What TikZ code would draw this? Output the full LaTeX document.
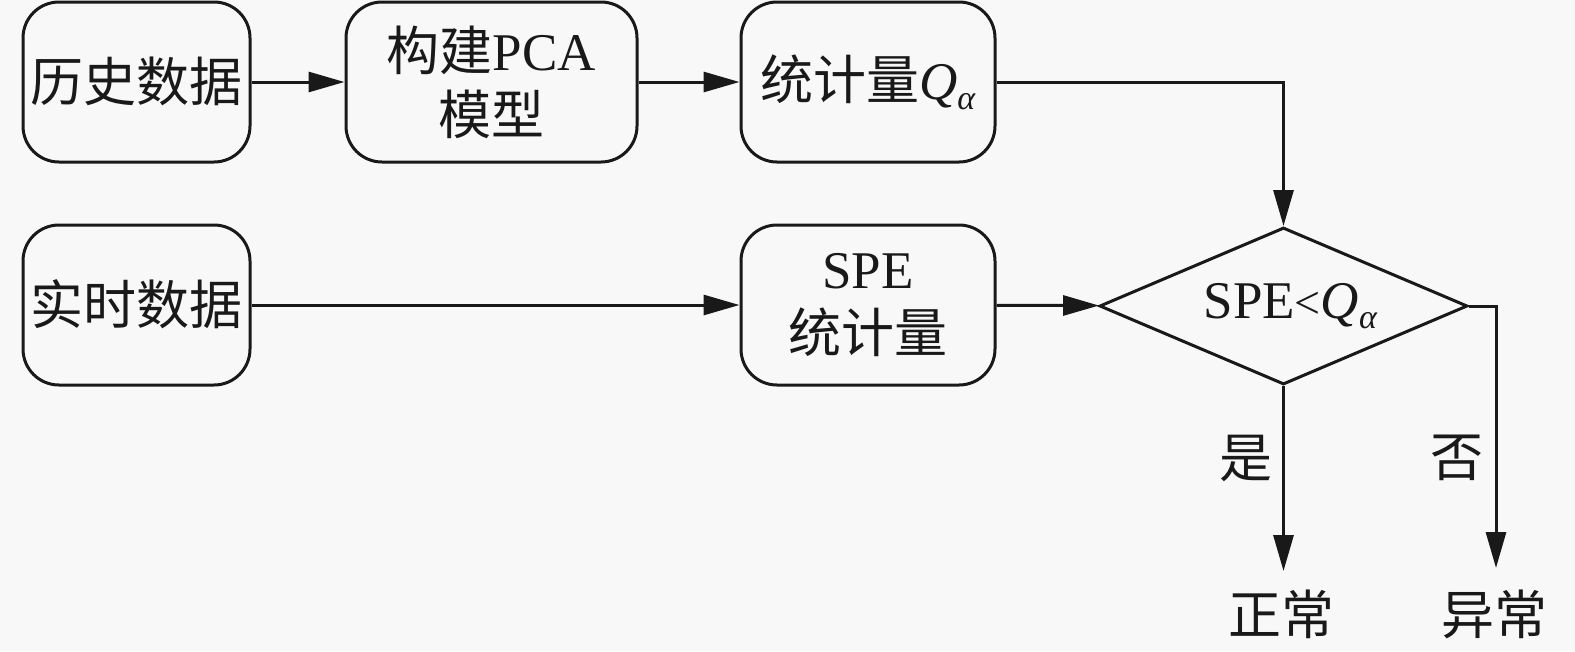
\documentclass[tikz,border=0pt]{standalone}
\usepackage{fontspec}
\setmainfont{Liberation Serif}
\newfontfamily\cjk{Noto Sans CJK SC}
\usetikzlibrary{shapes.geometric,arrows.meta}
\definecolor{bgc}{RGB}{248,248,248}
\definecolor{ink}{RGB}{25,25,25}
\newcommand{\qalpha}{\textit{Q}\raisebox{-10pt}{\fontsize{34}{36}\selectfont\textit{α}}}
\begin{document}
\begin{tikzpicture}[x=1pt,y=-1pt,
  every node/.style={font=\fontsize{53}{66}\selectfont, text=ink},
  box/.style={draw=ink, line width=3pt, rounded corners=36pt, minimum height=160pt, align=center, inner sep=0pt},
  dec/.style={draw=ink, line width=3pt, diamond, aspect=2.34, minimum width=368pt, minimum height=157pt, inner sep=0pt},
  conn/.style={draw=ink, line width=3pt, -{Triangle[length=36pt,width=20pt]}},
  lbl/.style={inner sep=0pt}]
\fill[bgc] (0,0) rectangle (1575,651);
\useasboundingbox (0,0) rectangle (1575,651);
\node[box, minimum width=227pt] (b1) at (136.5,82) {\raisebox{6pt}{\cjk 历史数据}};
\node[box, minimum width=291pt] (b2) at (491.5,82) {{\cjk 构建}PCA\\[-2pt]{\cjk 模型}};
\node[box, minimum width=254pt] (b3) at (868,82) {\raisebox{6pt}{{\cjk 统计量}\qalpha}};
\node[box, minimum width=227pt] (b4) at (136.5,305) {\raisebox{6pt}{\cjk 实时数据}};
\node[box, minimum width=254pt] (b5) at (868,305) {SPE\\[-2pt]{\cjk 统计量}};
\node[dec] (d) at (1283.5,306) {\hspace{14pt}SPE{\fontsize{46}{50}\selectfont<}\qalpha};
\coordinate (e1) at (1283.5,571);
\coordinate (c2) at (1496,306);
\coordinate (e2) at (1496,568);
\node[lbl] (yes) at (1246,458) {\cjk 是};
\node[lbl] (no) at (1457,458) {\cjk 否};
\node[lbl] (ok) at (1281,614) {\cjk 正常};
\node[lbl] (bad) at (1494,614) {\cjk 异常};
\draw[conn] (b1) -- (b2);
\draw[conn] (b2) -- (b3);
\draw[conn] (b3.east) -| (d.north);
\draw[conn] (b4) -- (b5);
\draw[conn] (b5) -- (d);
\draw[conn] (d.south) -- (e1);
\draw[conn] (d.east) -- (c2) -- (e2);
\end{tikzpicture}
\end{document}
